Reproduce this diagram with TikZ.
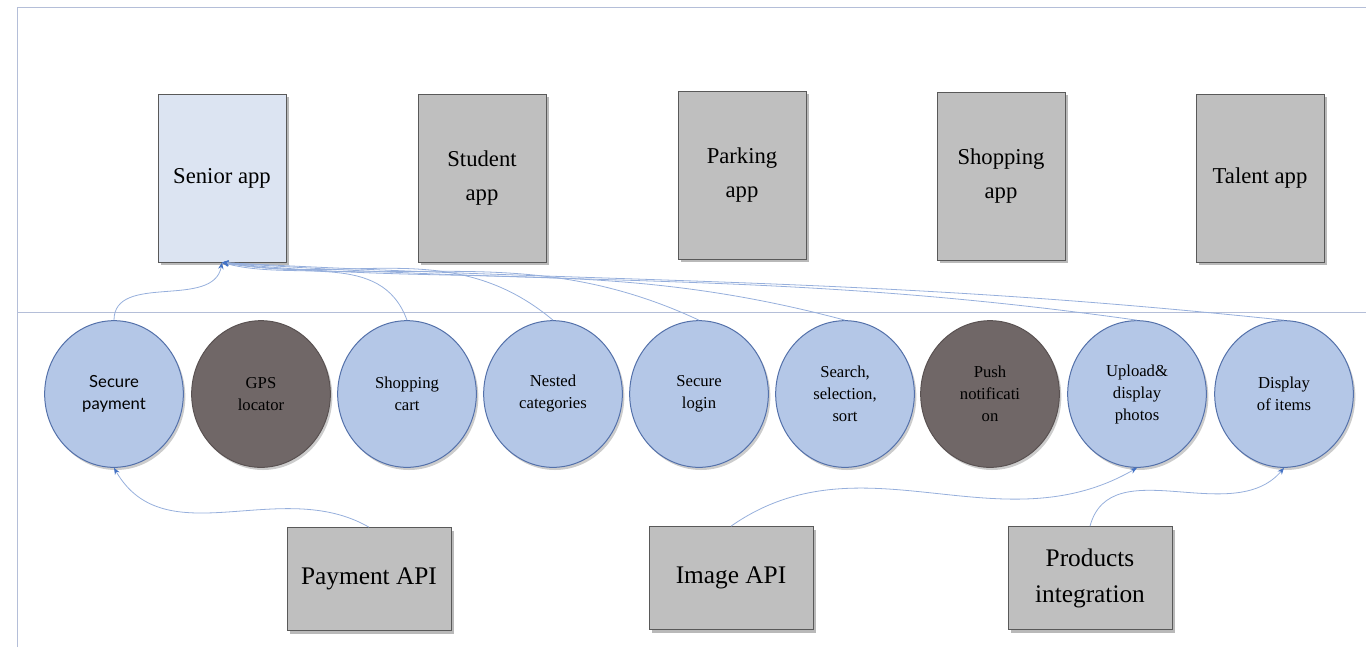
\documentclass[tikz,border=0pt]{standalone}
\usepackage{fontspec}
\setmainfont{Liberation Serif}
\newfontfamily\gillfont{Lato}
\usetikzlibrary{shapes.geometric,shadows,arrows.meta}

\definecolor{appgray}{RGB}{191,191,191}
\definecolor{appblue}{RGB}{220,228,242}
\definecolor{featblue}{RGB}{180,199,231}
\definecolor{featdark}{RGB}{112,103,103}
\definecolor{edgeblue}{RGB}{84,113,170}
\definecolor{linkblue}{RGB}{150,175,220}
\definecolor{tipblue}{RGB}{68,114,196}
\definecolor{framec}{RGB}{180,190,216}

\tikzset{every picture/.style={line width=0.75pt}}
\tikzset{
  appbox/.style={draw=gray!70!black, fill=appgray, minimum width=96pt, minimum height=126pt,
    align=center, font=\fontsize{17}{25}\selectfont, inner sep=2pt,
    drop shadow={shadow xshift=2pt, shadow yshift=-2.5pt, opacity=0.55}},
  apibox/.style={appbox, minimum width=123pt, minimum height=77pt, font=\fontsize{19}{27}\selectfont},
  feat/.style={ellipse, draw=edgeblue, fill=featblue, minimum width=104pt, minimum height=110pt,
    align=center, inner sep=1pt, font=\fontsize{12.5}{16.5}\selectfont,
    drop shadow={shadow xshift=1.5pt, shadow yshift=-2pt, opacity=0.4}},
  featoff/.style={feat, fill=featdark, draw=featdark!80!black},
  link/.style={draw=linkblue, line width=0.6pt, -{Stealth[length=5pt,width=4pt,color=tipblue]}}
}

\begin{document}
\begin{tikzpicture}[x=0.75pt,y=0.75pt,yscale=-1,xscale=1]
\useasboundingbox (0,0) rectangle (1366,647);

%Frame and divider
\draw [color=framec]  (17,647) -- (17,7) -- (1366,7) ;
\draw [color=framec]  (17,312) -- (1366,312) ;

% App boxes
\node [appbox, fill=appblue] (senior) at (222,178) {Senior app};
\node [appbox] (student) at (482,178) {Student\\app};
\node [appbox] (parking) at (742,175) {Parking\\app};
\node [appbox] (shopping) at (1001,176) {Shopping\\app};
\node [appbox] (talent) at (1260,178) {Talent app};

% Feature circles
\node [feat, font=\gillfont\fontsize{12.5}{16.5}\selectfont] (pay) at (114,394) {Secure\\payment};
\node [featoff] (gps) at (261,394) {GPS\\locator};
\node [feat] (cart) at (407,394) {Shopping\\cart};
\node [feat] (nested) at (553,394) {Nested\\categories};
\node [feat] (login) at (699,394) {Secure\\login};
\node [feat] (search) at (845,394) {Search,\\selection,\\sort};
\node [featoff] (push) at (990,394) {Push\\notificati\\on};
\node [feat] (upload) at (1137,394) {Upload\&\\display\\photos};
\node [feat] (display) at (1284,394) {Display\\of items};

% API boxes
\node [apibox] (payapi) at (369,579) {Payment API};
\node [apibox] (imgapi) at (731,578) {Image API};
\node [apibox] (prodint) at (1090,578) {Products\\integration};

% Links to the senior app (yscale=-1: angles flipped)
\draw [link] (pay.north) to[out=-90, in=100] (senior.south);
\draw [link] (cart.north) to[out=-110, in=15] (senior.south);
\draw [link] (nested.north) to[out=-140, in=10] (senior.south);
\draw [link] (login.north) to[out=-155, in=8] (senior.south);
\draw [link] (search.north) to[out=-165, in=6] (senior.south);
\draw [link] (upload.north) to[out=-172, in=4] (senior.south);
\draw [link] (display.north) to[out=-174, in=3] (senior.south);

% Links from the APIs
\draw [link] (payapi.north) to[out=-150, in=60] (pay.south);
\draw [link] (imgapi.north) to[out=-35, in=150] (upload.south);
\draw [link] (prodint.north) to[out=-75, in=130] (display.south);

\end{tikzpicture}
\end{document}
